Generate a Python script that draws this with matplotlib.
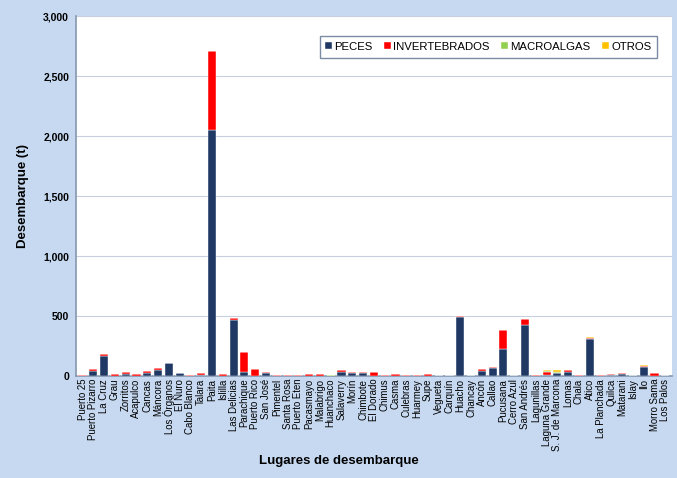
import numpy as np
import matplotlib.pyplot as plt
from matplotlib.ticker import FuncFormatter

plt.rcParams['font.family'] = ['Liberation Sans', 'DejaVu Sans']

lugares = ['Puerto 25', 'Puerto Pizarro', 'La Cruz', 'Grau', 'Zorritos', 'Acapulco',
           'Cancas', 'Máncora', 'Los Órganos', 'El Ñuro', 'Cabo Blanco', 'Talara',
           'Paita', 'Islilla', 'Las Delicias', 'Parachique', 'Puerto Rico', 'San José',
           'Pimentel', 'Santa Rosa', 'Puerto Eten', 'Pacasmayo', 'Malabrigo', 'Huanchaco',
           'Salaverry', 'Morín', 'Chimbote', 'El Dorado', 'Chimus', 'Casma', 'Culebras',
           'Huarmey', 'Supe', 'Vegueta', 'Carquín', 'Huacho', 'Chancay', 'Ancón', 'Callao',
           'Pucusana', 'Cerro Azul', 'San Andrés', 'Lagunillas', 'Laguna Grande',
           'S. J. de Marcona', 'Lomas', 'Chala', 'Atico', 'La Planchada', 'Quilca',
           'Matarani', 'Islay', 'Ilo', 'Morro Sama', 'Los Palos']

peces = [1, 40, 168, 2, 18, 3, 27, 52, 105, 26, 4, 8,
         2050, 2, 470, 33, 3, 25, 1, 4, 4, 2, 2, 1,
         36, 28, 27, 3, 1, 2, 1, 1, 2, 4, 4, 488, 3, 42, 63,
         228, 3, 425, 2, 5, 22, 36, 1, 305, 2, 10,
         17, 3, 73, 3, 3]
invertebrados = [8, 15, 15, 12, 12, 14, 12, 12, 3, 2, 1, 14,
                 660, 12, 15, 170, 52, 10, 7, 1, 1, 17, 12, 0,
                 10, 8, 9, 30, 6, 16, 6, 6, 12, 0, 0, 15, 0, 16, 12,
                 155, 0, 47, 8, 30, 6, 10, 6, 15, 8, 10,
                 8, 0, 12, 18, 0]
macroalgas = [0] * 55
macroalgas[lugares.index('Huanchaco')] = 6
macroalgas[lugares.index('Laguna Grande')] = 8
macroalgas[lugares.index('S. J. de Marcona')] = 8
otros = [0] * 55
otros[lugares.index('Laguna Grande')] = 4
otros[lugares.index('S. J. de Marcona')] = 10
otros[lugares.index('Atico')] = 5
otros[lugares.index('Matarani')] = 3
otros[lugares.index('Ilo')] = 4

series = [('PECES', peces, '#1F3864'),
          ('INVERTEBRADOS', invertebrados, '#FF0000'),
          ('MACROALGAS', macroalgas, '#92D050'),
          ('OTROS', otros, '#FFC000')]

fig = plt.figure(figsize=(6.77, 4.78), dpi=100, facecolor='#C6D9F1')
ax = fig.add_axes([0.1123, 0.2134, 0.880, 0.753])
ax.set_facecolor('white')

x = np.arange(len(lugares))
bottom = np.zeros(len(lugares))
for nombre, vals, color in series:
    vals = np.array(vals, dtype=float)
    ax.bar(x, vals, 0.75, bottom=bottom, color=color, label=nombre,
           edgecolor='white', linewidth=0.3, zorder=3)
    bottom += vals

ax.set_xlim(-0.6, len(lugares) - 0.4)
ax.set_ylim(0, 3000)
ax.set_yticks(np.arange(0, 3001, 500))
ax.yaxis.set_major_formatter(FuncFormatter(lambda v, p: f'{int(v):,}'))
ax.yaxis.grid(True, color='#C8D0E0', linewidth=0.8, zorder=0)
ax.set_xticks(x)
ax.set_xticklabels(lugares, rotation=90, fontsize=6.9)
ax.tick_params(axis='x', length=0, pad=2)
ax.tick_params(axis='y', length=0, pad=5, labelsize=7.5)
for lbl in ax.get_yticklabels():
    lbl.set_fontweight('bold')
for s in ['top', 'right']:
    ax.spines[s].set_visible(False)
for s in ['left', 'bottom']:
    ax.spines[s].set_color('#8497B0')
    ax.spines[s].set_linewidth(1.2)

ax.set_ylabel('Desembarque (t)', fontsize=9.5, fontweight='bold', labelpad=10)
fig.text(0.5, 0.036, 'Lugares de desembarque', fontsize=9.5, fontweight='bold',
         ha='center', va='center')

leg = ax.legend(loc='upper right', bbox_to_anchor=(0.985, 0.96), ncol=4, fontsize=8.2,
                frameon=True, fancybox=False, edgecolor='#5A6E8C',
                handlelength=0.6, handleheight=0.6, handletextpad=0.2,
                columnspacing=1.0, borderpad=0.5)
leg.get_frame().set_linewidth(1.0)

fig.savefig('out.png', dpi=100, facecolor=fig.get_facecolor())
